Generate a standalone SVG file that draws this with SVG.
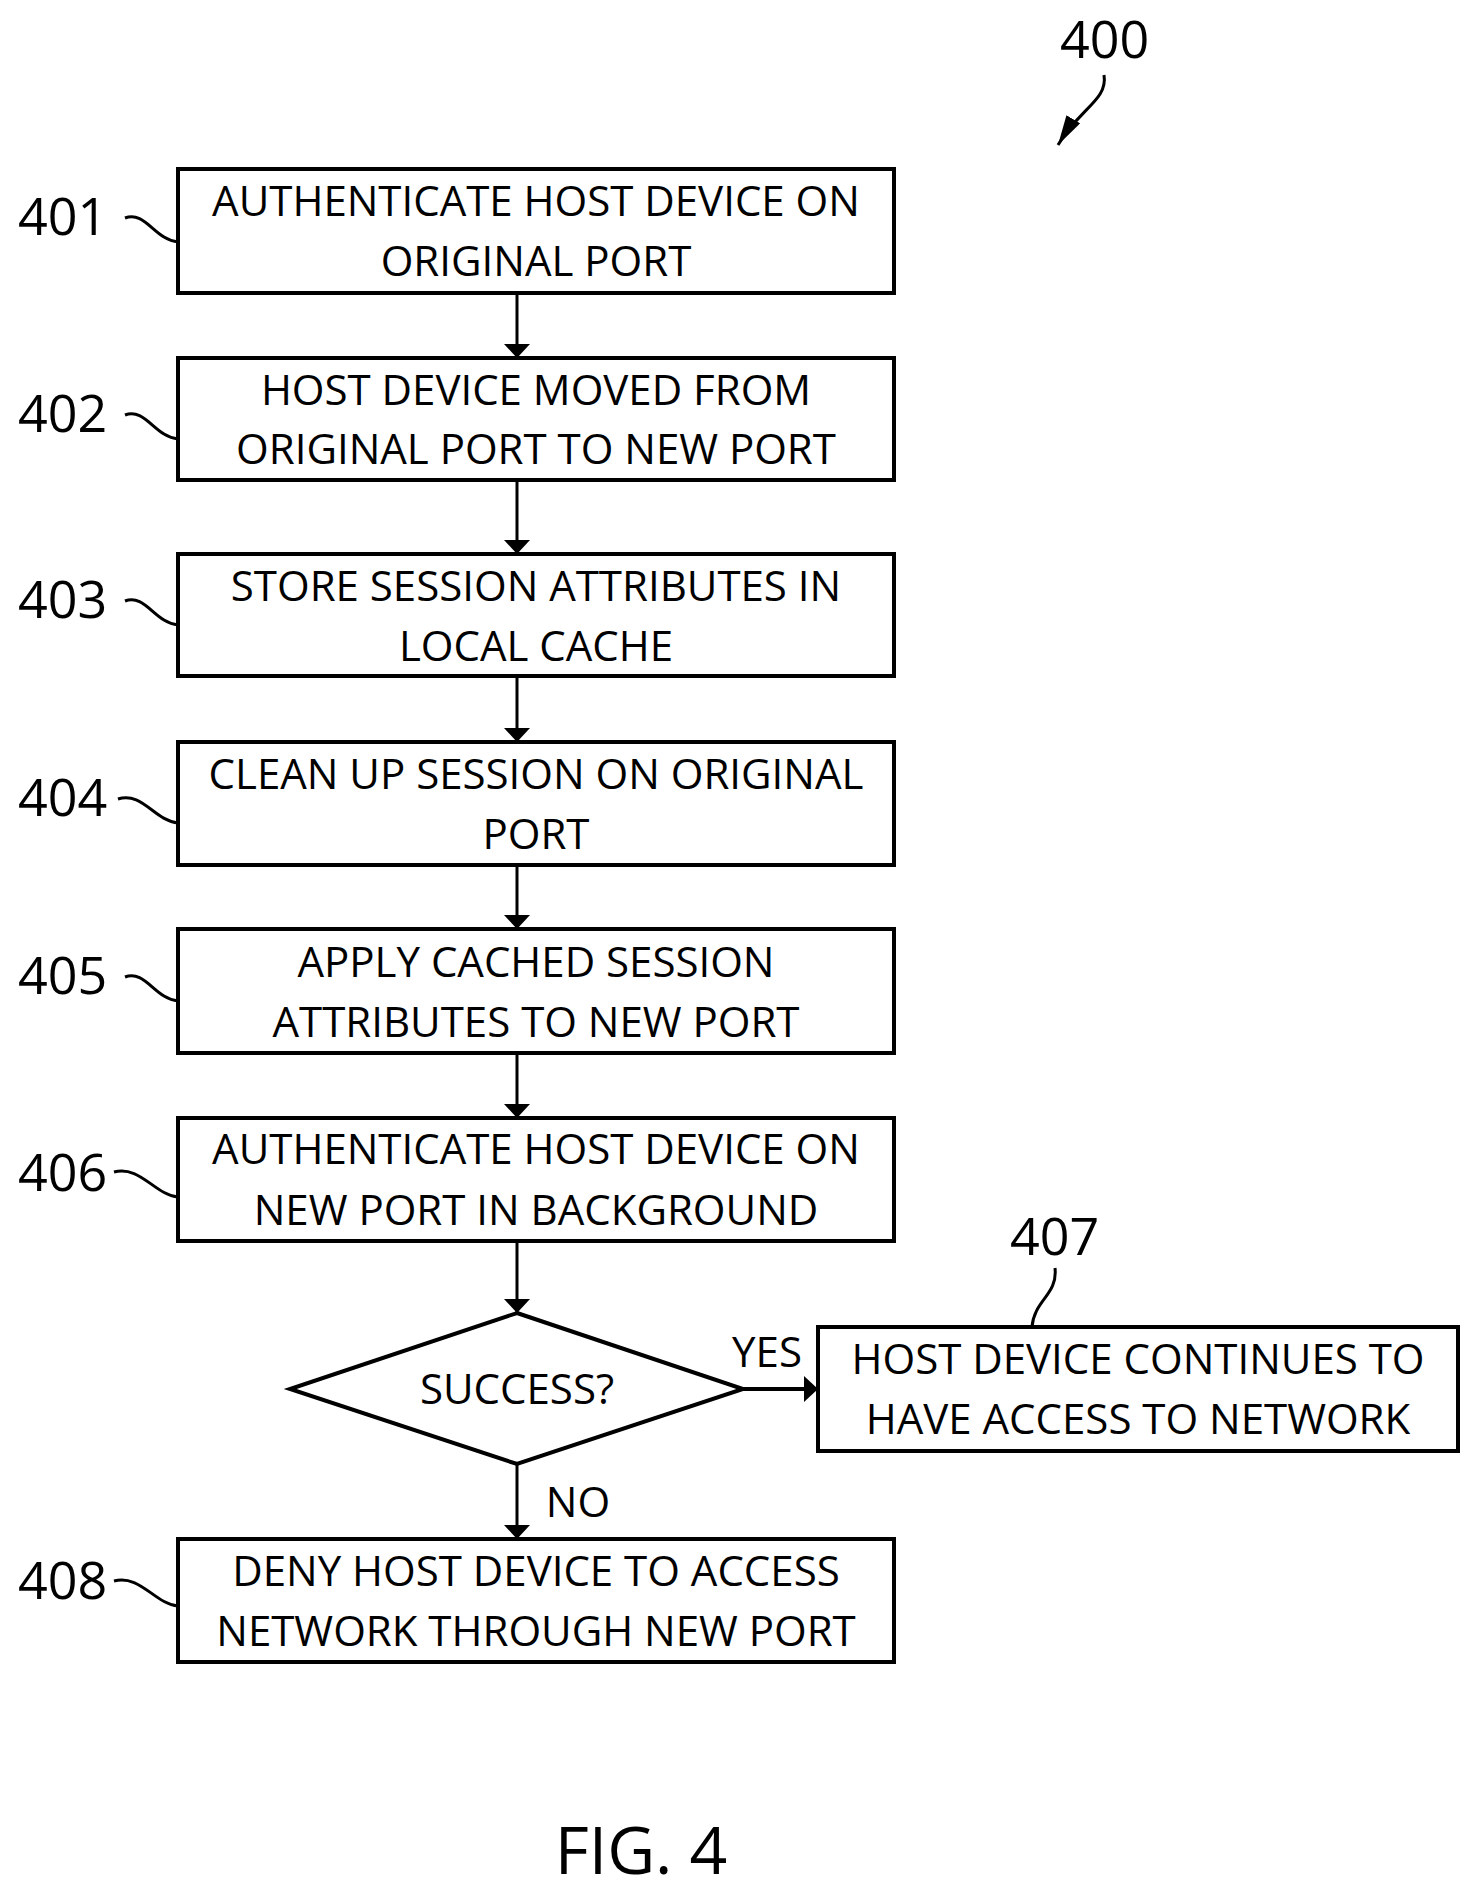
<svg xmlns="http://www.w3.org/2000/svg" width="1476" height="1892" viewBox="0 0 1476 1892">
<style>
.b{fill:#fff;stroke:#000;stroke-width:4}
.t{font-family:"Open Sans","Liberation Sans",sans-serif;font-size:42px;text-anchor:middle;fill:#000}
.n{font-family:"Open Sans","Liberation Sans",sans-serif;font-size:52px;fill:#000}
.l{fill:none;stroke:#000;stroke-width:3}
.c{fill:none;stroke:#000;stroke-width:3;marker-end:url(#a)}
</style>
<defs><marker id="a" markerWidth="14" markerHeight="26" refX="14" refY="13" orient="auto" markerUnits="userSpaceOnUse" viewBox="0 0 14 26"><path d="M0,0L14,13L0,26z" transform="rotate(0)"/></marker>
<marker id="a2" markerWidth="30" markerHeight="16" refX="30" refY="8" orient="auto" markerUnits="userSpaceOnUse" viewBox="0 0 30 16"><path d="M0,0L30,8L0,16z"/></marker></defs>
<g id="n401"><rect class="b" x="178" y="169" width="716" height="124"/><text class="t" x="536" y="216">AUTHENTICATE HOST DEVICE ON</text><text class="t" x="536" y="276">ORIGINAL PORT</text><text class="n" x="18" y="235">401</text><path class="l" d="M125,218 C145,210 155,240 178,242"/></g>
<g id="n402"><rect class="b" x="178" y="358" width="716" height="122"/><text class="t" x="536" y="405">HOST DEVICE MOVED FROM</text><text class="t" x="536" y="464">ORIGINAL PORT TO NEW PORT</text><text class="n" x="18" y="432">402</text><path class="l" d="M125,415 C145,407 155,437 178,439"/></g>
<g id="n403"><rect class="b" x="178" y="554" width="716" height="122"/><text class="t" x="536" y="601">STORE SESSION ATTRIBUTES IN</text><text class="t" x="536" y="661">LOCAL CACHE</text><text class="n" x="18" y="618">403</text><path class="l" d="M125,601 C145,593 155,623 178,625"/></g>
<g id="n404"><rect class="b" x="178" y="742" width="716" height="123"/><text class="t" x="536" y="789">CLEAN UP SESSION ON ORIGINAL</text><text class="t" x="536" y="849">PORT</text><text class="n" x="18" y="816">404</text><path class="l" d="M118,799 C142,791 155,821 178,823"/></g>
<g id="n405"><rect class="b" x="178" y="929" width="716" height="124"/><text class="t" x="536" y="977">APPLY CACHED SESSION</text><text class="t" x="536" y="1037">ATTRIBUTES TO NEW PORT</text><text class="n" x="18" y="994">405</text><path class="l" d="M125,977 C145,969 155,999 178,1001"/></g>
<g id="n406"><rect class="b" x="178" y="1118" width="716" height="123"/><text class="t" x="536" y="1164">AUTHENTICATE HOST DEVICE ON</text><text class="t" x="536" y="1225">NEW PORT IN BACKGROUND</text><text class="n" x="18" y="1191">406</text><path class="l" d="M114,1172 C140,1165 155,1195 178,1197"/></g>
<g id="dec"><path class="b" d="M517,1313 L743,1389 L517,1464 L290,1389 Z"/><text class="t" x="517" y="1404">SUCCESS?</text></g>
<g id="n407"><rect class="b" x="818" y="1327" width="640" height="124"/><text class="t" x="1138" y="1374">HOST DEVICE CONTINUES TO</text><text class="t" x="1138" y="1434">HAVE ACCESS TO NETWORK</text><text class="n" x="1010" y="1255">407</text><path class="l" d="M1055,1268 C1058,1295 1034,1300 1032,1327"/></g>
<g id="n408"><rect class="b" x="178" y="1539" width="716" height="123"/><text class="t" x="536" y="1586">DENY HOST DEVICE TO ACCESS</text><text class="t" x="536" y="1646">NETWORK THROUGH NEW PORT</text><text class="n" x="18" y="1599">408</text><path class="l" d="M114,1581 C140,1574 155,1604 178,1606"/></g>
<g id="labels"><text class="n" x="1060" y="58">400</text><path class="l" d="M1104,75 C1108,100 1080,108 1058,145" marker-end="url(#a2)"/><text class="t" x="767" y="1367">YES</text><text class="t" x="578" y="1517">NO</text><text class="n" x="641" y="1874" text-anchor="middle" style="font-size:66px">FIG. 4</text></g>
<g id="connectors">
<path class="c" d="M517,293 V358"/>
<path class="c" d="M517,480 V554"/>
<path class="c" d="M517,676 V742"/>
<path class="c" d="M517,865 V929"/>
<path class="c" d="M517,1053 V1118"/>
<path class="c" d="M517,1241 V1313"/>
<path class="c" d="M743,1389 H818" style="stroke-width:4"/>
<path class="c" d="M517,1464 V1539"/>
</g>
</svg>
